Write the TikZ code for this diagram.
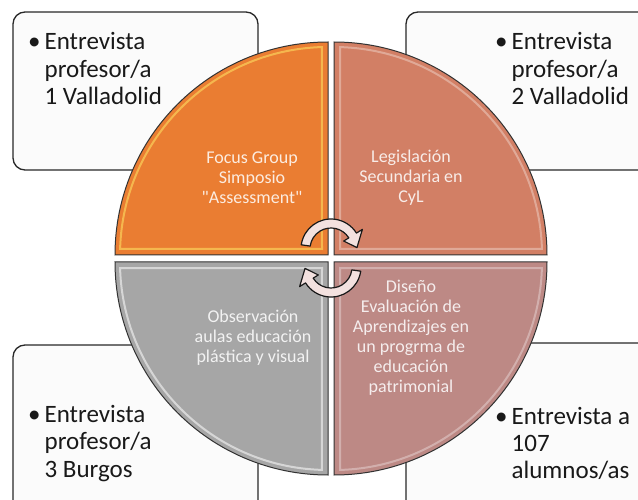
\documentclass[tikz,border=0pt]{standalone}
\usepackage{fontspec}
\setmainfont{Carlito}
\usepackage{xcolor}
\usepackage{tikz}
\usetikzlibrary{positioning}
\definecolor{focusorange}{RGB}{234,125,50}
\definecolor{legissalmon}{RGB}{210,127,101}
\definecolor{obsgray}{RGB}{166,166,166}
\definecolor{disenorose}{RGB}{189,137,133}
\definecolor{boxline}{RGB}{40,40,40}
\definecolor{boxfill}{RGB}{251,251,251}
\definecolor{arrowfill}{RGB}{243,225,223}

\begin{document}
\begin{tikzpicture}[x=1pt, y=1pt,
    infobox/.style={draw=boxline, line width=1.3pt, rounded corners=12pt, fill=boxfill},
    quarter/.style={draw=black!80, line width=1pt},
    bevel/.style={line width=2pt, opacity=0.55},
    cyclearrow/.style={draw=black!90, line width=1.2pt, fill=arrowfill, line join=round},
    bullettext/.style={anchor=base west, inner sep=0pt, font=\fontsize{25}{27.5}\selectfont, text=black!90},
    quartertext/.style={align=center, font=\fontsize{18}{20}\selectfont}]
    \useasboundingbox (0,0) rectangle (638,499);
    \clip (0,0) rectangle (638,499);

    % boxes behind the circle
    \node[infobox, minimum width=245pt, minimum height=158pt] (boxprof1) at (135.5,408) {};
    \node[infobox, minimum width=254pt, minimum height=158pt] (boxprof2) at (533,408) {};
    \node[infobox, minimum width=245pt, minimum height=176pt] (boxprof3) at (135.5,66) {};
    \node[infobox, minimum width=254pt, minimum height=176pt] (boxalum) at (533,68) {};

    \node[bullettext] (txtprof1) at (28,449) {\begin{tabular}[t]{@{}l@{\hspace{4pt}}l@{}}
        \textbullet & Entrevista\\ & profesor/a\\ & 1 Valladolid\end{tabular}};
    \node[bullettext] (txtprof2) at (495,449) {\begin{tabular}[t]{@{}l@{\hspace{4pt}}l@{}}
        \textbullet & Entrevista\\ & profesor/a\\ & 2 Valladolid\end{tabular}};
    \node[bullettext] (txtprof3) at (28,77) {\begin{tabular}[t]{@{}l@{\hspace{4pt}}l@{}}
        \textbullet & Entrevista\\ & profesor/a\\ & 3 Burgos\end{tabular}};
    \node[bullettext] (txtalum) at (495,75) {\begin{tabular}[t]{@{}l@{\hspace{4pt}}l@{}}
        \textbullet & Entrevista a\\ & 107\\ & alumnos/as\end{tabular}};

    % four quarters
    \draw[quarter, fill=focusorange] (328,244) -- (115,244) arc[start angle=180, end angle=90, radius=213] -- cycle;
    \draw[quarter, fill=legissalmon] (334,244) -- (334,457) arc[start angle=90, end angle=0, radius=213] -- cycle;
    \draw[quarter, fill=disenorose] (334,237) -- (547,237) arc[start angle=0, end angle=-90, radius=213] -- cycle;
    \draw[quarter, fill=obsgray] (328,237) -- (328,24) arc[start angle=-90, end angle=-180, radius=213] -- cycle;

    \draw[bevel, draw=orange!30!yellow!60!white] (322,250) -- (120.1,250.2) arc[start angle=178.3, end angle=91.7, radius=208] -- cycle;
    \draw[bevel, draw=legissalmon!40!white] (340,250) -- (340.2,451.9) arc[start angle=88.3, end angle=1.7, radius=208] -- cycle;
    \draw[bevel, draw=disenorose!40!white] (340,231) -- (541.9,230.8) arc[start angle=-1.7, end angle=-88.3, radius=208] -- cycle;
    \draw[bevel, draw=white] (322,231) -- (321.8,29.1) arc[start angle=-91.7, end angle=-178.3, radius=208] -- cycle;

    \node[quartertext, text=focusorange!15!white] (focus) at (252,321) {Focus Group\\Simposio\\\textquotedbl Assessment\textquotedbl};
    \node[quartertext, text=legissalmon!15!white] (legis) at (411,321) {Legislación\\Secundaria en\\CyL};
    \node[quartertext, text=obsgray!15!white] (obs) at (253,161) {Observación\\aulas educación\\plástica y visual};
    \node[quartertext, text=disenorose!15!white] (diseno) at (411,161) {Diseño\\Evaluación de\\Aprendizajes en\\un progrma de\\educación\\patrimonial};

    % circular arrows in the middle
    \foreach \ang/\cy in {0/250, 180/232} {
        \begin{scope}[shift={(331,\cy)}, rotate=\ang]
            \draw[cyclearrow] (172:30) arc[start angle=172, end angle=32, radius=30]
                -- (32:37) -- (3:26) -- (32:15) -- (32:21)
                arc[start angle=32, end angle=172, radius=21] -- cycle;
        \end{scope}
    }
\end{tikzpicture}
\end{document}
